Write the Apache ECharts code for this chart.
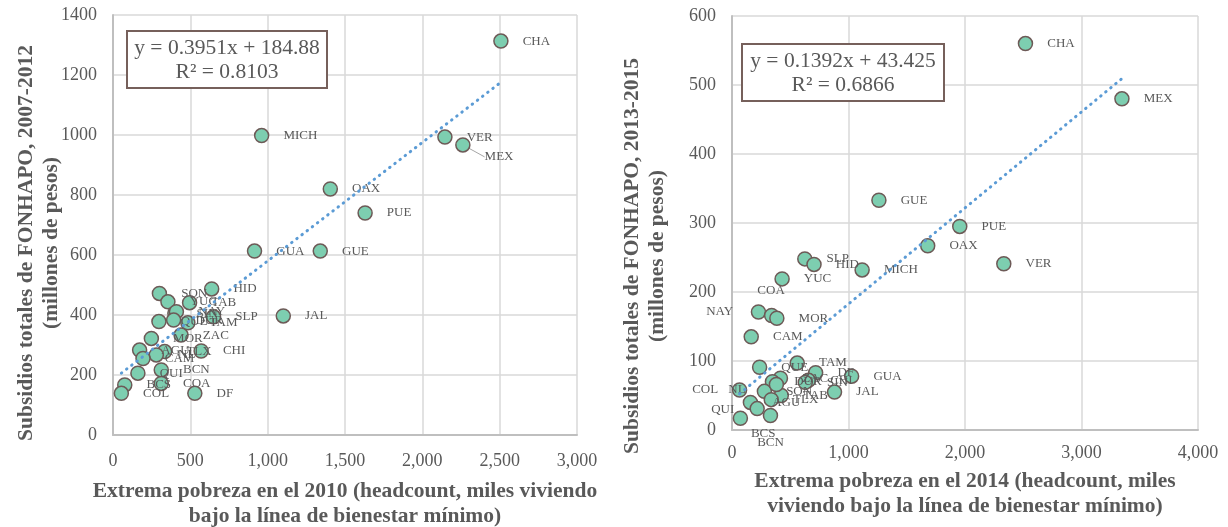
<!DOCTYPE html>
<html>
<head>
<meta charset="utf-8">
<script src="https://cdn.jsdelivr.net/npm/echarts@6/dist/echarts.min.js"></script>
<style>
  html, body { margin: 0; padding: 0; background: #fff; }
  #chart { width: 1228px; height: 527px; }
</style>
</head>
<body>
<div id="chart"></div>
<script>
// Left panel: 2010 extreme poverty vs FONHAPO subsidies 2007-2012
const leftStates = ['CHA', 'MICH', 'VER', 'MEX', 'OAX', 'PUE', 'GUA', 'GUE', 'HID', 'SON', 'YUC', 'TAB', 'SIN', 'NAY', 'JAL', 'SLP', 'QUE', 'DUR', 'TAM', 'ZAC', 'MOR', 'AGU', 'TLX', 'CHI', 'NL', 'CAM', 'BCN', 'QUI', 'COA', 'BCS', 'COL', 'DF'];
const leftPoverty = [2508, 961, 2146, 2262, 1405, 1630, 915, 1340, 638, 300, 355, 495, 400, 410, 1101, 650, 297, 392, 484, 440, 248, 172, 334, 570, 280, 194, 312, 161, 312, 76, 54, 529];
const leftSubsidy = [1313, 998, 993, 967, 820, 740, 613, 613, 487, 472, 444, 441, 406, 411, 397, 394, 378, 383, 374, 333, 322, 283, 278, 280, 267, 255, 217, 206, 172, 167, 139, 139];
const leftTrend = { slope: 0.3951, intercept: 184.88, r2: '0.8103' };

// Right panel: 2014 extreme poverty vs FONHAPO subsidies 2013-2015
const rightStates = ['CHA', 'MEX', 'GUE', 'PUE', 'OAX', 'VER', 'SLP', 'HID', 'MICH', 'YUC', 'NAY', 'COA', 'MOR', 'CAM', 'QUE', 'TAM', 'DF', 'GUA', 'JAL', 'CHI', 'ZAC', 'DUR', 'SON', 'TAB', 'TLX', 'AGU', 'NL', 'COL', 'QUI', 'BCS', 'BCN', 'SIN'];
const rightPoverty = [2519, 3347, 1261, 1955, 1680, 2333, 625, 704, 1117, 430, 227, 340, 385, 165, 237, 560, 718, 1027, 880, 656, 416, 347, 278, 423, 337, 158, 65, 381, 72, 216, 330, 629];
const rightSubsidy = [560, 480, 333, 295, 267, 241, 248, 240, 232, 219, 171, 166, 162, 135, 91, 97, 83, 78, 55, 72, 75, 70, 56, 50, 44, 40, 58, 66, 17, 31, 21, 69];
const rightTrend = { slope: 0.1392, intercept: 43.425, r2: '0.6866' };

// labels that were dragged away from the default right-hand spot
const leftLabelNudge = { MEX: [0, 12] };
const rightLabelNudge = {
  NAY: [-74, 0], COA: [-36, -25], NL: [-33, 0], COL: [-106, 5],
  QUI: [-51, -9], BCS: [-28, 25], BCN: [-35, 27]
};

const FONT = '"Liberation Serif", "Times New Roman", serif';
const GREY = '#595959';

function pointsOf(states, xs, ys, withLeader) {
  return xs.map((x, i) => ({
    name: states[i],
    value: [x, ys[i]],
    labelLine: withLeader.includes(states[i])
      ? { show: true, lineStyle: { color: '#a6a6a6', width: 1 } }
      : undefined
  }));
}

function trendOf(trend, xs) {
  const lo = Math.min(...xs), hi = Math.max(...xs);
  return [[lo, trend.slope * lo + trend.intercept], [hi, trend.slope * hi + trend.intercept]];
}

function scatterSeries(idx, states, xs, ys, nudge, withLeader) {
  return {
    type: 'scatter',
    xAxisIndex: idx,
    yAxisIndex: idx,
    data: pointsOf(states, xs, ys, withLeader),
    symbol: 'circle',
    symbolSize: 14,
    itemStyle: { color: '#7dceb0', borderColor: '#6d5a57', borderWidth: 1.5, opacity: 1 },
    label: {
      show: true,
      position: 'right',
      distance: 14,
      formatter: '{b}',
      color: GREY,
      fontFamily: FONT,
      fontSize: 13
    },
    labelLine: { show: false },
    labelLayout: (p) => {
      const d = nudge[states[p.dataIndex]];
      return d ? { dx: d[0], dy: d[1] } : {};
    },
    emphasis: { disabled: true },
    z: 2
  };
}

function trendSeries(idx, trend, xs) {
  return {
    type: 'line',
    xAxisIndex: idx,
    yAxisIndex: idx,
    data: trendOf(trend, xs),
    symbol: 'none',
    lineStyle: { color: '#5b9bd5', width: 3, type: [0.5, 6], cap: 'round' },
    emphasis: { disabled: true },
    z: 3
  };
}

const axisLabel = { color: GREY, fontFamily: FONT, fontSize: 18 };
const splitLine = { show: true, lineStyle: { color: '#d9d9d9', width: 1.5 } };
const axisLine = { show: true, lineStyle: { color: '#bfbfbf', width: 2 } };

function xAxisOf(idx, max, interval, margin) {
  return {
    type: 'value', gridIndex: idx, min: 0, max, interval,
    axisLine, axisTick: { show: false }, splitLine,
    axisLabel: { ...axisLabel, margin, formatter: (v) => v.toLocaleString('en-US') }
  };
}
function yAxisOf(idx, max, interval) {
  return {
    type: 'value', gridIndex: idx, min: 0, max, interval,
    axisLine, axisTick: { show: false }, splitLine,
    axisLabel: { ...axisLabel, margin: 16, formatter: (v) => String(v) }
  };
}

function eqBox(x, y, w, h, trend) {
  const sign = trend.intercept >= 0 ? '+' : '-';
  return {
    type: 'group',
    children: [
      {
        type: 'rect',
        shape: { x, y, width: w, height: h },
        style: { fill: '#fff', stroke: '#76605b', lineWidth: 2 },
        z: 10
      },
      {
        type: 'text',
        x: x + w / 2, y: y + h / 2 + 1,
        style: {
          text: `y = ${trend.slope}x ${sign} ${Math.abs(trend.intercept)}\nR² = ${trend.r2}`,
          font: `21.5px ${FONT}`, fill: GREY, lineHeight: 24,
          align: 'center', verticalAlign: 'middle'
        },
        z: 11
      }
    ]
  };
}

function title(text, x, y, rotated) {
  return {
    type: 'text', x, y, rotation: rotated ? Math.PI / 2 : 0,
    style: {
      text, font: `bold 21.5px ${FONT}`, fill: GREY, lineHeight: 24.5,
      align: 'center', verticalAlign: 'middle'
    }
  };
}

const chart = echarts.init(document.getElementById('chart'), null, { renderer: 'canvas' });
chart.setOption({
  animation: false,
  backgroundColor: '#fff',
  grid: [
    { left: 113, top: 15, width: 464, height: 420 },
    { left: 732, top: 16, width: 466, height: 414 }
  ],
  xAxis: [xAxisOf(0, 3000, 500, 17), xAxisOf(1, 4000, 1000, 14)],
  yAxis: [yAxisOf(0, 1400, 200), yAxisOf(1, 600, 100)],
  series: [
    trendSeries(0, leftTrend, leftPoverty),
    scatterSeries(0, leftStates, leftPoverty, leftSubsidy, leftLabelNudge, ['MEX']),
    trendSeries(1, rightTrend, rightPoverty),
    scatterSeries(1, rightStates, rightPoverty, rightSubsidy, rightLabelNudge, [])
  ],
  graphic: [
    eqBox(127, 31, 200, 57, leftTrend),
    eqBox(742, 44, 202, 57, rightTrend),
    title('Subsidios totales de FONHAPO, 2007-2012\n(millones de pesos)', 39, 243, true),
    title('Subsidios totales de FONHAPO, 2013-2015\n(millones de pesos)', 645, 256, true),
    title('Extrema pobreza en el 2010 (headcount, miles viviendo\nbajo la línea de bienestar mínimo)', 345, 504, false),
    title('Extrema pobreza en el 2014 (headcount, miles\nviviendo bajo la línea de bienestar mínimo)', 965, 494, false)
  ]
});
</script>
</body>
</html>
